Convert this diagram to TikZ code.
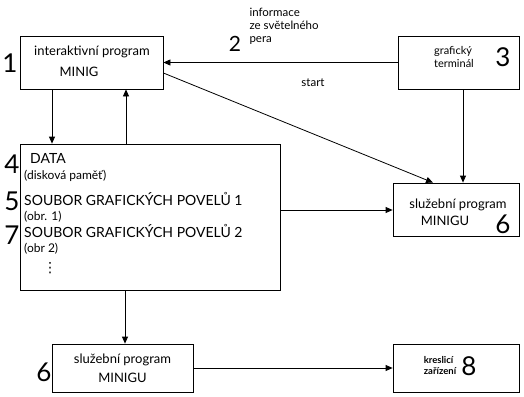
\documentclass[tikz,border=0pt]{standalone}
\usepackage{fontspec}
\setmainfont{Lato}
\newfontfamily\symfont{DejaVu Sans}
\usetikzlibrary{positioning, arrows.meta, calc}

\begin{document}
\begin{tikzpicture}[
  x=1pt, y=-1pt,
  box/.style={draw, thick, inner sep=0pt, align=center},
  arr/.style={thick, -{Triangle[length=7pt, width=6pt]}},
  txt/.style={font=\fontsize{13}{19}\selectfont, align=center},
  small/.style={font=\fontsize{11.5}{13}\selectfont, align=left},
  caps/.style={font=\fontsize{14}{15}\selectfont, anchor=base west, inner sep=0pt},
  paren/.style={font=\fontsize{12}{13}\selectfont, anchor=base west, inner sep=0pt},
  num/.style={font=\fontsize{26}{26}\selectfont, inner sep=0pt}
]
  \useasboundingbox (0,0) rectangle (524,396);

  % boxes
  \node[box, minimum width=143, minimum height=53] (inter) at (91.5,62.5) {};
  \node[box, minimum width=121, minimum height=53] (term) at (458.5,62.5) {};
  \node[box, minimum width=126, minimum height=53] (serv) at (456,209.5) {};
  \node[box, minimum width=260, minimum height=146] (data) at (150,217) {};
  \node[box, txt, minimum width=141, minimum height=48] (serv2) at (122.5,368) {služební program\\MINIGU};
  \node[box, minimum width=126, minimum height=48] (plot) at (456,368) {};

  % texts in the boxes
  \node[txt] (interT1) at (92,52) {interaktivní program};
  \node[txt] (interT2) at (79,72) {MINIG};
  \node[small, font=\fontsize{11}{12.5}\selectfont] (termT) at (454,57) {grafický\\terminál};
  \node[txt] (servT1) at (458,205) {služební program};
  \node[txt] (servT2) at (445,221) {MINIGU};
  \node[small, font=\bfseries\fontsize{9.5}{11}\selectfont] (plotT) at (440,366) {kreslicí\\zařízení};

  \node[caps] (dataT) at (30,163) {DATA};
  \node[paren] (diskT) at (24,179) {(disková paměť)};
  \node[caps] (sb1) at (24,205) {SOUBOR GRAFICKÝCH POVELŮ 1};
  \node[paren] (obr1) at (24,220) {(obr. 1)};
  \node[caps] (sb2) at (24,237) {SOUBOR GRAFICKÝCH POVELŮ 2};
  \node[paren] (obr2) at (24,252) {(obr 2)};
  \node[font=\symfont\fontsize{14}{15}\selectfont, inner sep=0pt] (dots) at (50,268) {⋮};

  % numbers
  \node[num] (n1) at (10,63) {1};
  \node[num, font=\fontsize{21}{21}\selectfont] (n2) at (235,44) {2};
  \node[num] (n3) at (503,57) {3};
  \node[num] (n4) at (12,164) {4};
  \node[num] (n5) at (12,201) {5};
  \node[num] (n7) at (12,235) {7};
  \node[num] (n6a) at (503,224) {6};
  \node[num] (n6b) at (44,372) {6};
  \node[num] (n8) at (469,366) {8};

  % labels
  \node[small, anchor=west] (pen) at (246,26) {informace\\ze světelného\\pera};
  \node[small] (startT) at (313,83) {start};

  % connectors
  \draw[arr] (term.west) -- (inter.east);
  \draw[arr] (inter.east |- 0,73) -- (serv.north -| 433,0);
  \draw[arr] (term.south -| 463,0) -- (serv.north -| 463,0);
  \draw[arr] (inter.south -| 52,0) -- (data.north -| 52,0);
  \draw[arr] (data.north -| 126,0) -- (inter.south -| 126,0);
  \draw[arr] (data.east |- 0,210) -- (serv.west |- 0,210);
  \draw[arr] (data.south -| 125,0) -- (serv2.north -| 125,0);
  \draw[arr] (serv2.east) -- (plot.west);
\end{tikzpicture}
\end{document}
